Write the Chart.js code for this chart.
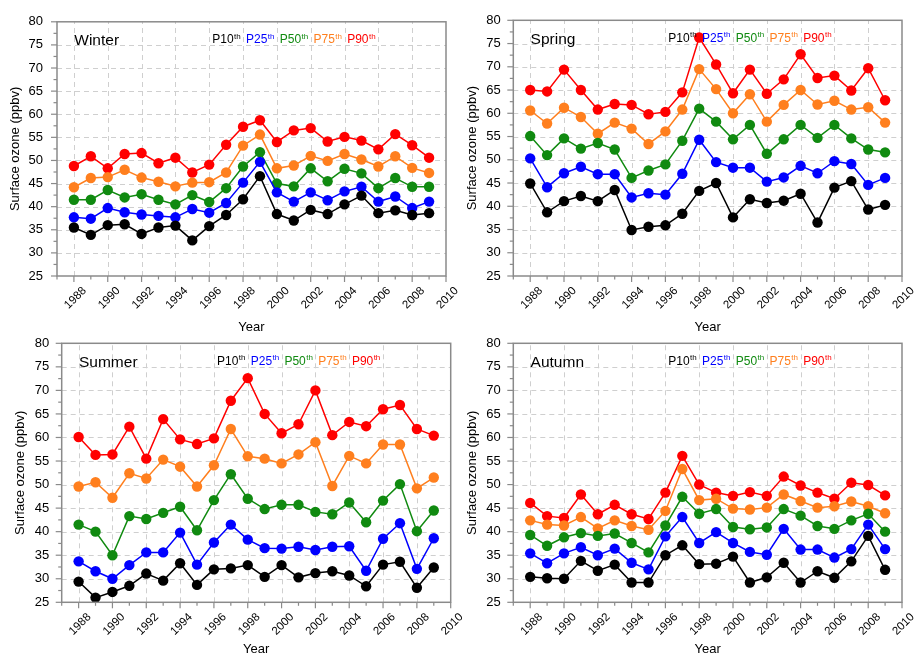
<!DOCTYPE html>
<html><head><meta charset="utf-8">
<script src="https://cdn.jsdelivr.net/npm/chart.js@4.4.1/dist/chart.umd.min.js"></script>
<style>
html,body{margin:0;padding:0;background:#fff;}
body{width:916px;height:658px;position:relative;overflow:hidden;}
canvas{position:absolute;}
</style></head><body>
<canvas id="c0" width="458" height="336" style="left:0px;top:0px"></canvas>
<canvas id="c1" width="458" height="336" style="left:458px;top:0px"></canvas>
<canvas id="c2" width="472" height="335" style="left:0px;top:323px"></canvas>
<canvas id="c3" width="458" height="335" style="left:458px;top:323px"></canvas>
<script>
// ---------- data ----------
const years = [1988,1989,1990,1991,1992,1993,1994,1995,1996,1997,1998,1999,2000,2001,2002,2003,2004,2005,2006,2007,2008,2009];
const xTickLabels = ['1988','1990','1992','1994','1996','1998','2000','2002','2004','2006','2008','2010'];
const yTickValues = [25,30,35,40,45,50,55,60,65,70,75,80];
const seriesNames = ['P10','P25','P50','P75','P90'];
const seriesColors = ['#000000','#0000ff','#108a10','#ff7f1e','#ff0000'];

const winterP10 = [35.5,33.9,36.0,36.2,34.1,35.5,35.9,32.7,35.8,38.2,41.6,46.6,38.4,37.0,39.3,38.4,40.5,42.4,38.6,39.2,38.2,38.6];
const winterP25 = [37.7,37.4,39.7,38.8,38.3,38.0,37.7,39.5,38.7,40.8,45.2,49.7,43.1,41.1,43.1,41.4,43.3,44.3,41.1,42.2,39.7,41.1];
const winterP50 = [41.5,41.5,43.6,42.0,42.7,41.5,40.5,42.5,41.0,44.0,48.7,51.8,45.0,44.4,48.3,45.5,48.2,47.2,44.0,46.2,44.3,44.3];
const winterP75 = [44.2,46.2,46.4,48.0,46.3,45.4,44.4,45.2,45.3,47.4,53.2,55.6,48.3,48.9,51.0,49.9,51.4,50.2,48.7,50.9,48.4,47.3];
const winterP90 = [48.8,50.9,48.3,51.4,51.6,49.4,50.6,47.4,49.1,53.4,57.3,58.7,54.0,56.5,57.0,54.1,55.1,54.3,52.4,55.7,53.3,50.6];

const springP10 = [44.9,38.7,41.1,42.2,41.1,43.5,34.9,35.6,35.9,38.4,43.3,45.0,37.6,41.5,40.7,41.2,42.7,36.5,44.0,45.4,39.3,40.3];
const springP25 = [50.3,44.1,47.1,48.5,46.9,46.9,41.9,42.8,42.5,47.0,54.3,49.5,48.3,48.3,45.3,46.2,48.7,47.1,49.7,49.1,44.6,46.1];
const springP50 = [55.1,51.0,54.6,52.4,53.6,52.2,46.1,47.7,49.0,54.1,61.0,58.2,54.4,57.5,51.3,54.4,57.5,54.7,57.5,54.6,52.2,51.6];
const springP75 = [60.6,57.8,61.2,59.2,55.6,58.0,56.7,53.4,56.1,60.8,69.5,65.2,60.0,64.1,58.2,61.8,65.0,61.9,62.7,60.8,61.3,58.0];
const springP90 = [65.0,64.7,69.4,65.0,60.8,62.0,61.8,59.8,60.3,64.5,76.3,70.5,64.3,69.4,64.2,67.3,72.7,67.6,68.1,64.9,69.7,62.8];

const summerP10 = [29.4,26.0,27.2,28.5,31.1,29.6,33.3,28.7,32.0,32.2,32.9,30.4,32.9,30.3,31.2,31.6,30.7,28.4,33.0,33.6,28.1,32.4];
const summerP25 = [33.7,31.6,30.0,32.9,35.6,35.6,39.8,33.0,37.7,41.5,38.3,36.5,36.4,36.8,36.1,36.8,36.9,31.7,38.5,41.8,32.1,38.6];
const summerP50 = [41.5,40.0,35.0,43.3,42.7,44.0,45.3,40.3,46.7,52.2,47.0,44.8,45.7,45.7,44.2,43.7,46.2,42.0,46.6,50.1,40.1,44.5];
const summerP75 = [49.6,50.5,47.2,52.4,51.3,55.3,53.8,49.6,54.1,61.8,56.0,55.5,54.5,56.4,59.0,49.7,56.1,54.5,58.5,58.5,49.2,51.5];
const summerP90 = [60.1,56.3,56.4,62.3,55.5,63.9,59.6,58.6,59.8,67.8,72.6,65.0,60.9,62.8,70.0,60.5,63.3,62.4,66.0,66.9,61.8,60.4];

const autumnP10 = [30.4,30.1,30.0,33.8,31.7,33.0,29.2,29.2,35.0,37.1,33.1,33.2,34.7,29.2,30.3,33.4,29.2,31.6,30.2,33.7,39.1,31.9];
const autumnP25 = [35.4,33.3,35.4,36.7,35.0,36.4,33.4,32.0,39.0,43.1,37.6,39.9,37.6,35.7,35.1,40.6,36.2,36.2,34.5,36.3,41.5,36.3];
const autumnP50 = [39.3,37.0,38.8,39.7,39.1,39.6,37.6,35.6,41.3,47.4,43.8,44.8,41.0,40.5,40.9,44.8,43.4,41.2,40.6,42.4,43.8,40.0];
const autumnP75 = [42.4,41.5,41.3,43.1,40.7,42.4,41.2,40.4,44.4,53.3,46.7,47.0,44.9,44.7,45.1,47.9,46.5,45.1,45.4,46.4,45.4,43.9];
const autumnP90 = [46.1,43.3,42.9,47.9,43.7,45.7,43.7,42.7,48.3,56.1,50.0,48.3,47.6,48.4,47.6,51.7,49.8,48.3,47.0,50.4,49.9,47.7];

const seasonNames = ['Winter','Spring','Summer','Autumn'];
const seasonSeries = [
  [winterP10,winterP25,winterP50,winterP75,winterP90],
  [springP10,springP25,springP50,springP75,springP90],
  [summerP10,summerP25,summerP50,summerP75,summerP90],
  [autumnP10,autumnP25,autumnP50,autumnP75,autumnP90]
];

// ---------- layout ----------
const FONT = '"Liberation Sans", Arial, sans-serif';
const panels = [
  {padTop:15,   padRight:12,   yWidth:57,   xHeight:60,   yLabelPad:14,   yTitlePad:7.2,  xTitlePad:0.7},
  {padTop:15,   padRight:14,   yWidth:55.3, xHeight:60,   yLabelPad:12.5, yTitlePad:6.7,  xTitlePad:0.7},
  {padTop:18.7, padRight:21.3, yWidth:61.7, xHeight:55.7, yLabelPad:12.5, yTitlePad:12.2, xTitlePad:1.2},
  {padTop:18.7, padRight:14,   yWidth:55.3, xHeight:55.7, yLabelPad:12.5, yTitlePad:6.2,  xTitlePad:1.2}
];

const decor = {
  id:'decor',
  beforeDatasetsDraw(chart){
    const ctx = chart.ctx, a = chart.chartArea, sx = chart.scales.x, sy = chart.scales.y;
    ctx.save();
    ctx.strokeStyle = '#cfcfcf'; ctx.lineWidth = 1; ctx.setLineDash([5, 4]);
    xTickLabels.forEach(lbl => {
      const v = Number(lbl); if (v >= 2010) return;
      const px = Math.round(sx.getPixelForValue(v)) + 0.5;
      ctx.beginPath(); ctx.moveTo(px, a.bottom); ctx.lineTo(px, a.top); ctx.stroke();
    });
    yTickValues.forEach(v => {
      if (v <= 25 || v >= 80) return;
      const py = Math.round(sy.getPixelForValue(v)) + 0.5;
      ctx.beginPath(); ctx.moveTo(a.left, py); ctx.lineTo(a.right, py); ctx.stroke();
    });
    ctx.restore();
  },
  afterDraw(chart, args, opts){
    const ctx = chart.ctx, a = chart.chartArea, sx = chart.scales.x, sy = chart.scales.y;
    ctx.save();
    // frame
    ctx.strokeStyle = '#8a8a8a'; ctx.lineWidth = 1.5;
    ctx.strokeRect(a.left, a.top, a.right - a.left, a.bottom - a.top);
    // y ticks
    ctx.lineWidth = 1.2;
    for (let v = 25; v <= 80; v += 2.5) {
      const py = sy.getPixelForValue(v);
      const len = (v % 5 === 0) ? 6 : 3.5;
      ctx.beginPath(); ctx.moveTo(a.left - len, py); ctx.lineTo(a.left, py); ctx.stroke();
    }
    // x ticks
    for (let yr = 1987; yr <= 2010; yr++) {
      const px = sx.getPixelForValue(yr);
      const len = (yr % 2 === 0) ? 6 : 3.5;
      ctx.beginPath(); ctx.moveTo(px, a.bottom); ctx.lineTo(px, a.bottom + len); ctx.stroke();
    }
    // x tick labels, rotated
    ctx.fillStyle = '#000'; ctx.font = '11.5px ' + FONT;
    ctx.textAlign = 'center'; ctx.textBaseline = 'middle';
    xTickLabels.forEach(lbl => {
      const px = sx.getPixelForValue(Number(lbl));
      ctx.save(); ctx.translate(px + 1.5, a.bottom + 22); ctx.rotate(-Math.PI / 4);
      ctx.fillText(lbl, 0, 0); ctx.restore();
    });
    // season title
    ctx.textAlign = 'left'; ctx.textBaseline = 'alphabetic';
    ctx.font = '15.5px ' + FONT; ctx.fillStyle = '#000';
    ctx.fillText(opts.title, a.left + 17.3, a.top + 23.4);
    // legend with superscripts
    let lx = a.right - 233.7; const base = a.top + 21.2;
    seriesNames.forEach((nm, i) => {
      ctx.fillStyle = seriesColors[i];
      ctx.font = '12px ' + FONT; ctx.fillText(nm, lx, base);
      lx += ctx.measureText(nm).width + 0.4;
      ctx.font = '8px ' + FONT; ctx.fillText('th', lx, base - 4.3);
      lx += ctx.measureText('th').width + 5.3;
    });
    ctx.restore();
  }
};

seasonNames.forEach((season, k) => {
  const p = panels[k];
  const datasets = seasonSeries[k].map((vals, i) => ({
    label: seriesNames[i],
    data: years.map((yr, j) => ({x: yr, y: vals[j]})),
    borderColor: seriesColors[i], backgroundColor: seriesColors[i],
    pointBackgroundColor: seriesColors[i], pointBorderColor: seriesColors[i],
    borderWidth: 1.5, pointRadius: 5.2, pointBorderWidth: 0, tension: 0
  }));
  new Chart(document.getElementById('c' + k), {
    type: 'line',
    data: {datasets},
    plugins: [decor],
    options: {
      responsive: false, animation: false, devicePixelRatio: 1,
      layout: {padding: {top: p.padTop, right: p.padRight, left: 0, bottom: 0}},
      plugins: {legend: {display: false}, tooltip: {enabled: false}, decor: {title: season}},
      scales: {
        x: {
          type: 'linear', min: 1987, max: 2010,
          ticks: {display: false, stepSize: 1, autoSkip: false},
          grid: {display: false, drawTicks: false},
          border: {display: false},
          title: {display: true, text: 'Year', color: '#000', font: {size: 13, family: FONT},
                  padding: {top: 0, bottom: p.xTitlePad}},
          afterFit: s => { s.height = p.xHeight; }
        },
        y: {
          min: 25, max: 80,
          ticks: {stepSize: 5, color: '#000', font: {size: 13, family: FONT}, padding: p.yLabelPad, autoSkip: false},
          grid: {display: false, drawTicks: false},
          border: {display: false},
          title: {display: true, text: 'Surface ozone (ppbv)', color: '#000', font: {size: 13, family: FONT},
                  padding: {top: p.yTitlePad, bottom: 0}},
          afterFit: s => { s.width = p.yWidth; }
        }
      }
    }
  });
});
</script>
</body></html>
